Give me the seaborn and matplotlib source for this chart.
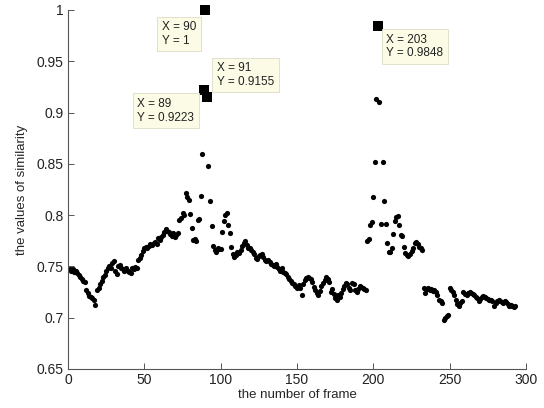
import matplotlib
matplotlib.use("Agg")
import matplotlib.pyplot as plt
import seaborn as sns
import pandas as pd

# similarity value for each frame (1..293)
sim_1_50 = [
    0.747, 0.746, 0.747, 0.745, 0.746, 0.744, 0.742, 0.740, 0.738, 0.736,
    0.735, 0.727, 0.724, 0.721, 0.720, 0.719, 0.717, 0.712, 0.727, 0.729,
    0.733, 0.736, 0.740, 0.742, 0.746, 0.748, 0.750, 0.748, 0.753, 0.755,
    0.746, 0.743, 0.750, 0.751, 0.748, 0.747, 0.746, 0.748, 0.746, 0.745,
    0.744, 0.748, 0.747, 0.749, 0.748, 0.756, 0.758, 0.761, 0.765, 0.768,
]
sim_51_100 = [
    0.769, 0.768, 0.770, 0.772, 0.771, 0.773, 0.774, 0.772, 0.778, 0.776,
    0.779, 0.781, 0.784, 0.786, 0.785, 0.784, 0.782, 0.780, 0.783, 0.779,
    0.781, 0.783, 0.795, 0.797, 0.802, 0.800, 0.822, 0.818, 0.815, 0.801,
    0.787, 0.776, 0.777, 0.775, 0.795, 0.796, 0.819, 0.860, 0.9223, 1.0,
    0.9155, 0.848, 0.814, 0.789, 0.770, 0.766, 0.764, 0.768, 0.767, 0.767,
]
sim_101_150 = [
    0.784, 0.794, 0.800, 0.802, 0.790, 0.783, 0.769, 0.762, 0.759, 0.761,
    0.764, 0.763, 0.766, 0.770, 0.773, 0.775, 0.771, 0.768, 0.768, 0.766,
    0.764, 0.762, 0.758, 0.757, 0.760, 0.761, 0.762, 0.759, 0.756, 0.755,
    0.756, 0.754, 0.752, 0.751, 0.750, 0.752, 0.749, 0.747, 0.746, 0.748,
    0.745, 0.744, 0.743, 0.740, 0.738, 0.736, 0.734, 0.733, 0.731, 0.729,
]
sim_151_200 = [
    0.732, 0.729, 0.722, 0.733, 0.737, 0.739, 0.740, 0.739, 0.738, 0.735,
    0.730, 0.727, 0.724, 0.722, 0.726, 0.731, 0.734, 0.737, 0.740, 0.738,
    0.735, 0.725, 0.728, 0.723, 0.719, 0.717, 0.722, 0.720, 0.724, 0.728,
    0.731, 0.734, 0.733, 0.729, 0.727, 0.734, 0.733, 0.727, 0.725, 0.728,
    0.731, 0.730, 0.729, 0.728, 0.727, 0.775, 0.777, 0.790, 0.793, 0.818,
]
sim_201_250 = [
    0.852, 0.913, 0.9848, 0.910, 0.791, 0.852, 0.814, 0.791, 0.773, 0.764,
    0.764, 0.768, 0.782, 0.794, 0.798, 0.799, 0.790, 0.781, 0.780, 0.769,
    0.763, 0.761, 0.760, 0.762, 0.765, 0.768, 0.773, 0.774, 0.772, 0.769,
    0.768, 0.766, 0.729, 0.724, 0.728, 0.729, 0.727, 0.728, 0.726, 0.727,
    0.725, 0.722, 0.717, 0.716, 0.714, 0.698, 0.700, 0.702, 0.703, 0.729,
]
sim_251_293 = [
    0.727, 0.725, 0.722, 0.717, 0.713, 0.711, 0.714, 0.716, 0.725, 0.723,
    0.722, 0.724, 0.725, 0.724, 0.723, 0.722, 0.720, 0.719, 0.716, 0.718,
    0.720, 0.721, 0.720, 0.719, 0.718, 0.717, 0.717, 0.716, 0.711, 0.714,
    0.716, 0.717, 0.716, 0.715, 0.714, 0.716, 0.715, 0.713, 0.711, 0.712,
    0.711, 0.710, 0.711,
]

similarity = sim_1_50 + sim_51_100 + sim_101_150 + sim_151_200 + sim_201_250 + sim_251_293
frames = list(range(1, len(similarity) + 1))

# data tips
tip_x = [89, 90, 91, 203]
tip_y = [0.9223, 1.0, 0.9155, 0.9848]
tip_labels = ["X = 89\nY = 0.9223", "X = 90\nY = 1", "X = 91\nY = 0.9155", "X = 203\nY = 0.9848"]

df = pd.DataFrame({"frame": frames, "similarity": similarity})
tips = pd.DataFrame({"frame": tip_x, "similarity": tip_y})

sns.set_style("white")
plt.rcParams["font.family"] = ["Liberation Sans", "DejaVu Sans"]

fig = plt.figure(figsize=(5.44, 4.08), dpi=100)
ax = fig.add_axes([0.125, 0.0956, 0.842, 0.88])

sns.scatterplot(data=df, x="frame", y="similarity", color="black",
                s=14, linewidth=0, ax=ax)
sns.scatterplot(data=tips, x="frame", y="similarity", color="black",
                marker="s", s=45, linewidth=0, ax=ax, zorder=3, clip_on=False)

# text box positions (data coords, upper-left corner)
box_pos = [(45.5, 0.914), (61.5, 0.989), (97.5, 0.949), (208.5, 0.977)]
for (bx, by), lab in zip(box_pos, tip_labels):
    ax.text(bx, by, lab, fontsize=8.5, va="top", ha="left", linespacing=1.15,
            color="#222222",
            bbox=dict(boxstyle="square,pad=0.4", facecolor="#fbfbe6",
                      edgecolor="#dcdcc8", linewidth=0.6))

ax.set_xlim(0, 300)
ax.set_ylim(0.65, 1.0)
ax.set_xticks([0, 50, 100, 150, 200, 250, 300])
ax.set_yticks([0.65, 0.7, 0.75, 0.8, 0.85, 0.9, 0.95, 1.0])
ax.set_yticklabels(["0.65", "0.7", "0.75", "0.8", "0.85", "0.9", "0.95", "1"])
ax.set_xlabel("the number of frame", fontsize=9.5, labelpad=1)
ax.set_ylabel("the values of similarity", fontsize=9.5, labelpad=6)

sns.despine(ax=ax)
for side in ["left", "bottom"]:
    ax.spines[side].set_color("#555555")
    ax.spines[side].set_linewidth(0.8)
ax.tick_params(direction="in", length=4, width=0.7, color="#555555",
               labelsize=10, labelcolor="#222222", pad=3, left=True, bottom=True)

plt.savefig("out.png", dpi=100)
